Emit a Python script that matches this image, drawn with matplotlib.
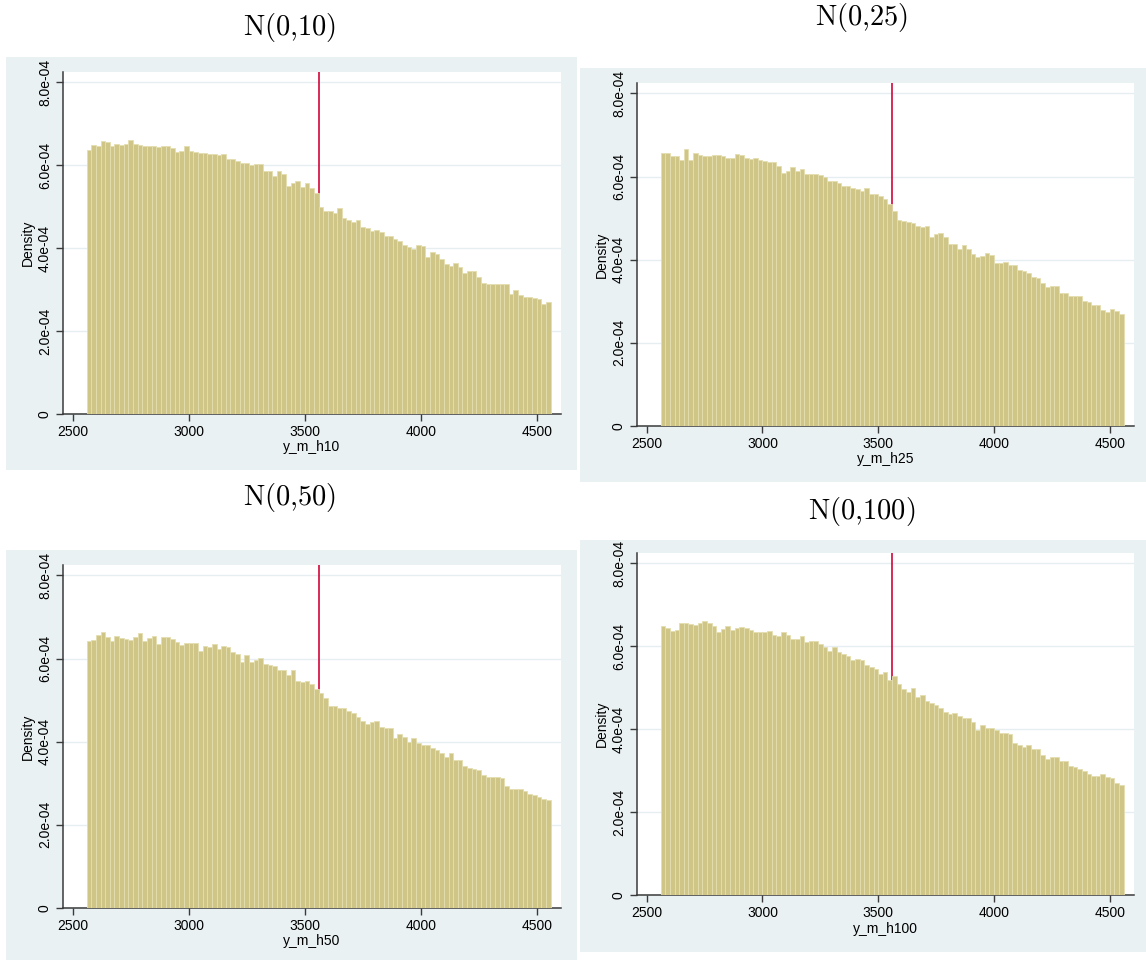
import matplotlib.pyplot as plt
from matplotlib.patches import Rectangle
import numpy as np

plt.rcParams['font.family'] = ['Liberation Sans', 'DejaVu Sans']
plt.rcParams['mathtext.fontset'] = 'cm'

# histogram bins: 100 bins of width 20 starting at 2560, cutoff line at 3560
bin_start = 2560
bin_width = 20
cutoff = 3560

# densities in units of 1e-4
h10 = [6.37, 6.50, 6.46, 6.58, 6.56, 6.46, 6.52, 6.49, 6.52, 6.60,
       6.52, 6.50, 6.46, 6.46, 6.46, 6.45, 6.47, 6.46, 6.42, 6.32,
       6.34, 6.47, 6.34, 6.32, 6.30, 6.29, 6.26, 6.26, 6.25, 6.28,
       6.15, 6.15, 6.10, 6.06, 6.05, 6.00, 6.02, 6.02, 5.86, 5.86,
       5.73, 5.85, 5.78, 5.50, 5.58, 5.61, 5.48, 5.57, 5.46, 5.32,
       5.00, 4.90, 4.90, 4.86, 4.96, 4.73, 4.68, 4.62, 4.68, 4.52,
       4.49, 4.41, 4.44, 4.38, 4.30, 4.30, 4.22, 4.18, 4.07, 4.02,
       3.97, 4.08, 4.06, 3.78, 3.90, 3.86, 3.74, 3.62, 3.58, 3.65,
       3.54, 3.40, 3.46, 3.46, 3.30, 3.16, 3.14, 3.13, 3.14, 3.13,
       3.14, 2.90, 2.98, 2.88, 2.82, 2.82, 2.81, 2.78, 2.65, 2.70]

h25 = [6.57, 6.57, 6.50, 6.50, 6.40, 6.66, 6.39, 6.57, 6.53, 6.50,
       6.50, 6.51, 6.52, 6.49, 6.44, 6.44, 6.54, 6.51, 6.44, 6.41,
       6.45, 6.40, 6.37, 6.34, 6.36, 6.26, 6.09, 6.13, 6.22, 6.14,
       6.18, 6.07, 6.06, 6.05, 6.03, 6.00, 5.90, 5.90, 5.85, 5.77,
       5.78, 5.73, 5.70, 5.66, 5.72, 5.58, 5.58, 5.54, 5.46, 5.34,
       5.16, 4.96, 4.93, 4.90, 4.88, 4.82, 4.78, 4.80, 4.54, 4.62,
       4.64, 4.54, 4.38, 4.38, 4.26, 4.36, 4.26, 4.14, 4.06, 4.10,
       4.16, 4.12, 3.91, 3.91, 3.94, 3.87, 3.87, 3.76, 3.74, 3.67,
       3.59, 3.57, 3.43, 3.35, 3.36, 3.36, 3.21, 3.19, 3.12, 3.12,
       3.12, 3.00, 2.99, 2.92, 2.92, 2.80, 2.73, 2.81, 2.76, 2.69]

h50 = [6.42, 6.44, 6.56, 6.64, 6.52, 6.42, 6.54, 6.50, 6.48, 6.44,
       6.52, 6.62, 6.42, 6.50, 6.54, 6.36, 6.52, 6.52, 6.46, 6.40,
       6.32, 6.38, 6.38, 6.38, 6.19, 6.30, 6.27, 6.36, 6.22, 6.30,
       6.27, 6.16, 6.10, 5.92, 6.08, 5.92, 5.96, 6.02, 5.87, 5.84,
       5.81, 5.73, 5.73, 5.61, 5.73, 5.47, 5.43, 5.47, 5.39, 5.27,
       5.17, 5.05, 4.86, 4.86, 4.82, 4.81, 4.73, 4.69, 4.59, 4.49,
       4.42, 4.47, 4.49, 4.36, 4.34, 4.32, 4.08, 4.19, 4.11, 4.00,
       4.08, 3.98, 3.92, 3.92, 3.84, 3.80, 3.74, 3.64, 3.72, 3.56,
       3.56, 3.41, 3.36, 3.34, 3.32, 3.20, 3.14, 3.14, 3.14, 3.12,
       2.93, 2.86, 2.86, 2.86, 2.82, 2.75, 2.71, 2.67, 2.62, 2.59]

h100 = [6.49, 6.45, 6.37, 6.39, 6.57, 6.55, 6.53, 6.51, 6.57, 6.61,
        6.56, 6.49, 6.35, 6.41, 6.49, 6.39, 6.44, 6.47, 6.44, 6.39,
        6.34, 6.35, 6.35, 6.36, 6.26, 6.25, 6.35, 6.28, 6.18, 6.18,
        6.25, 6.10, 6.13, 6.13, 6.06, 5.98, 5.89, 5.98, 5.85, 5.82,
        5.76, 5.66, 5.69, 5.66, 5.56, 5.50, 5.46, 5.34, 5.38, 5.18,
        5.29, 5.08, 4.96, 4.90, 5.00, 4.78, 4.82, 4.68, 4.64, 4.58,
        4.50, 4.42, 4.36, 4.38, 4.32, 4.26, 4.26, 4.18, 3.98, 4.10,
        4.02, 4.04, 3.98, 3.90, 3.90, 3.88, 3.67, 3.61, 3.56, 3.61,
        3.52, 3.52, 3.37, 3.29, 3.32, 3.33, 3.24, 3.24, 3.12, 3.09,
        3.05, 3.00, 2.92, 2.88, 2.88, 2.93, 2.85, 2.83, 2.71, 2.65]

titles = ['N(0{,}10)', 'N(0{,}25)', 'N(0{,}50)', 'N(0{,}100)']
xlabels = ['y_m_h10', 'y_m_h25', 'y_m_h50', 'y_m_h100']
xticks = [2500, 3000, 3500, 4000, 4500]
yticks = [0, 2e-4, 4e-4, 6e-4, 8e-4]
ytick_labels = ['0', '2.0e-04', '4.0e-04', '6.0e-04', '8.0e-04']

W, H = 1146, 960
fig = plt.figure(figsize=(W / 100, H / 100), dpi=100)

# pixel boxes: (left, top, right, bottom) for background, plot area; title centre
layout = [
    ((6, 57, 577, 470), (63, 72, 561, 414), (290, 28)),
    ((580, 68, 1146, 482), (637, 83, 1134, 426), (862, 17)),
    ((6, 550, 577, 960), (63, 565, 561, 908), (290, 497)),
    ((580, 540, 1146, 952), (637, 553, 1134, 895), (862, 511)),
]

def frac(l, t, r, b):
    return [l / W, 1 - b / H, (r - l) / W, (b - t) / H]

edges = bin_start + bin_width * np.arange(100)

for data, title, xl, (bg, pa, tc) in zip([h10, h25, h50, h100], titles, xlabels, layout):
    l, t, r, b = bg
    fig.add_artist(Rectangle((l / W, 1 - b / H), (r - l) / W, (b - t) / H,
                             transform=fig.transFigure, facecolor='#EAF1F3',
                             edgecolor='none', zorder=0))
    fig.text(tc[0] / W, 1 - tc[1] / H, r'$\mathrm{' + title + '}$',
             ha='center', va='center', fontsize=20.5)

    ax = fig.add_axes(frac(*pa))
    ax.set_facecolor('white')
    ax.bar(edges, np.array(data) * 1e-4, width=bin_width, align='edge',
           color='#CEC586', edgecolor='#E4DEB0', linewidth=0.6, zorder=3)
    ax.axvline(cutoff, color='#D1063B', linewidth=1.2, zorder=2)
    ax.set_xlim(2458, 4605)
    ax.set_ylim(0, 8.25e-4)
    ax.set_xticks(xticks)
    ax.set_yticks(yticks)
    ax.set_yticklabels(ytick_labels, rotation=90, va='center')
    ax.grid(axis='y', color='#E6EEF1', linewidth=1, zorder=1)
    ax.set_axisbelow(True)
    for s in ['top', 'right']:
        ax.spines[s].set_visible(False)
    for s in ['left', 'bottom']:
        ax.spines[s].set_color('#3a3a3a')
        ax.spines[s].set_linewidth(1.1)
    ax.tick_params(direction='out', length=5, width=1, color='#3a3a3a',
                   labelsize=10, pad=3)
    ax.set_xlabel(xl, fontsize=10, labelpad=1)
    ax.set_ylabel('Density', fontsize=10, labelpad=2)

fig.savefig('out.png', dpi=100)
